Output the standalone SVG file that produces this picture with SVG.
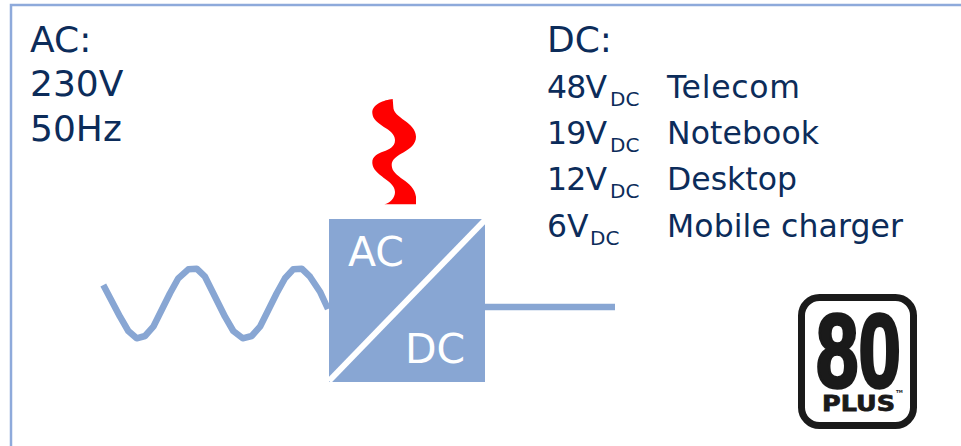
<svg xmlns="http://www.w3.org/2000/svg" width="961" height="446" viewBox="0 0 961 446">
<style>
text{font-family:"DejaVu Sans",Verdana,sans-serif;fill:#0c2c5a}
.l{font-size:36px}
.m{font-size:31.500px}
.s{font-size:20px}
.w{font-size:41px;fill:#fff}
.c{fill:none;stroke:#88a6d3;stroke-width:6.500}
.k{font-weight:bold;fill:#1a1a1a}
</style>
<rect width="961" height="446" fill="#fff"/>
<path id="border" d="M11 446V5H961" fill="none" stroke="#8eaadb" stroke-width="2.500"/>
<g id="labels-ac">
<text class="l" x="30" y="52">AC:</text>
<text class="l" x="30" y="96">230V</text>
<text class="l" x="30" y="141">50Hz</text>
</g>
<g id="labels-dc">
<text class="l" x="547" y="52">DC:</text>
<text class="m" x="547" y="98" textLength="60">48V</text><text class="s" x="610" y="106">DC</text><text class="m" x="667" y="98" textLength="133">Telecom</text>
<text class="m" x="547" y="144" textLength="60">19V</text><text class="s" x="610" y="152">DC</text><text class="m" x="667" y="144" textLength="152">Notebook</text>
<text class="m" x="547" y="190" textLength="60">12V</text><text class="s" x="610" y="198">DC</text><text class="m" x="667" y="190" textLength="130">Desktop</text>
<text class="m" x="547" y="237">6V</text><text class="s" x="590" y="245">DC</text><text class="m" x="667" y="237" textLength="236">Mobile charger</text>
</g>
<g id="connectors">
<polyline class="c" stroke-linejoin="round" points="103.300,285 120,316.700 128.300,331 136.700,338.300 145,336 153.300,326.700 170,293.300 178.300,278.300 188.300,269.300 196.700,268.700 205,276.700 215,296.700 225,316.700 233.300,331 242.700,338.300 251.700,336 260,326.700 276.700,293.300 285,278.300 293.300,269.300 301.700,268.700 310,276.700 320,291.700 328,309"/>
<line class="c" x1="485" y1="307" x2="615" y2="307"/>
</g>
<g id="heat">
<path fill="#f00" d="M392.700 99C384 100 372 104 372.300 113C373 126 395 128 395 140C395 154 372 149 372.300 163C373 176 395 180 395 192C395 198 390 203 384.300 204.300H416V196.700C414 180 391.700 178 391.700 165C391.700 153 416 152 416 136.700C416 122 393 118 393.300 106.700Z"/>
</g>
<g id="converter">
<rect x="329" y="219" width="156" height="163" fill="#88a6d3"/>
<line x1="486" y1="219" x2="329" y2="381" stroke="#fff" stroke-width="6"/>
<text class="w" x="348" y="266">AC</text>
<text class="w" x="405" y="363">DC</text>
</g>
<g id="logo">
<rect x="801.500" y="297.500" width="112" height="128" rx="18" fill="#fff" stroke="#1a1a1a" stroke-width="7"/>
<text class="k" transform="translate(816 387) scale(.72 .98)" style="font-family:'Liberation Sans',sans-serif;font-size:106px;stroke:#1a1a1a;stroke-width:3.500">80</text>
<text class="k" x="822" y="411" textLength="73" lengthAdjust="spacingAndGlyphs" style="font-size:22px;stroke:#1a1a1a;stroke-width:.8">PLUS</text>
<text class="k" x="896" y="393" style="font-size:4px">TM</text>
</g>
</svg>
